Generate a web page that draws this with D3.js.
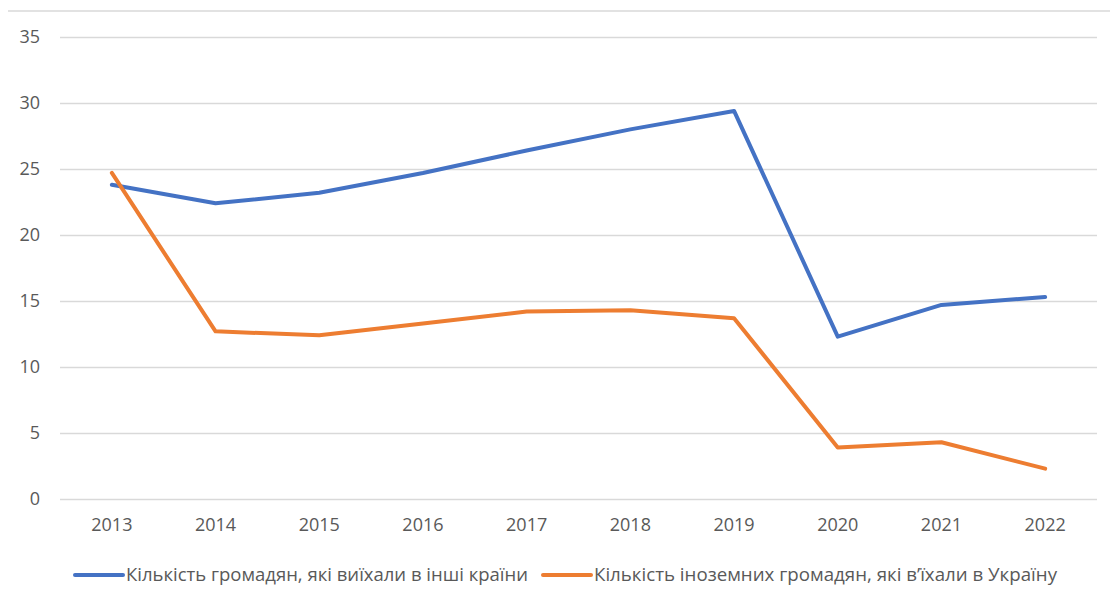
<!DOCTYPE html>
<html><head><meta charset="utf-8">
<script src="https://cdn.jsdelivr.net/npm/d3@7"></script>
<style>body{margin:0;background:#fff}svg{display:block}</style>
</head><body><svg id="c" width="1110" height="600"></svg>
<script>
const years = ["2013","2014","2015","2016","2017","2018","2019","2020","2021","2022"];
const emigrated = [23.8,22.4,23.2,24.7,26.4,28.0,29.4,12.3,14.7,15.3];
const immigrated = [24.7,12.7,12.4,13.3,14.2,14.3,13.7,3.9,4.3,2.3];
const yTicks = [0,5,10,15,20,25,30,35];
const seriesNames = ["Кількість громадян, які виїхали в інші країни","Кількість іноземних громадян, які в’їхали в Україну"];
const colors = ["#4472C4","#ED7D31"];

const svg = d3.select("#c");
const font = "'Open Sans', 'Liberation Sans', sans-serif";
const fs = "18px";
svg.append("line").attr("x1",8).attr("x2",1110).attr("y1",11).attr("y2",11).attr("stroke","#d9d9d9").attr("stroke-width",1.5);

const x = d3.scaleBand().domain(years).range([60,1097]);
const y = d3.scaleLinear().domain([0,35]).range([499,37]);

const gy = svg.append("g").attr("transform","translate(60,0)")
  .call(d3.axisLeft(y).tickValues(yTicks).tickSize(-1037).tickPadding(20));
gy.select(".domain").remove();
gy.selectAll(".tick line").attr("stroke","#d9d9d9").attr("stroke-width",1.3);
gy.selectAll(".tick text").attr("fill","#595959").style("font-family",font).style("font-size",fs);

const gx = svg.append("g").attr("transform","translate(0,499)")
  .call(d3.axisBottom(x).tickSize(0).tickPadding(19));
gx.select(".domain").remove();
gx.selectAll(".tick text").attr("fill","#595959").style("font-family",font).style("font-size",fs);

const line = d3.line().x((d,i)=>x(years[i])+x.bandwidth()/2).y(d=>y(d));
[emigrated,immigrated].forEach((s,k)=>{
  svg.append("path").datum(s).attr("d",line).attr("fill","none")
    .attr("stroke",colors[k]).attr("stroke-width",4).attr("stroke-linejoin","round").attr("stroke-linecap","round");
});

const legX = [75,543];
const legW = [402,463];
seriesNames.forEach((n,k)=>{
  const g = svg.append("g");
  g.append("line").attr("x1",legX[k]).attr("x2",legX[k]+48).attr("y1",575).attr("y2",575)
    .attr("stroke",colors[k]).attr("stroke-width",4).attr("stroke-linecap","round");
  g.append("text").attr("x",legX[k]+51).attr("y",581).text(n)
    .attr("textLength",legW[k]).attr("lengthAdjust","spacingAndGlyphs")
    .attr("fill","#595959").style("font-family",font).style("font-size",fs);
});
</script></body></html>
